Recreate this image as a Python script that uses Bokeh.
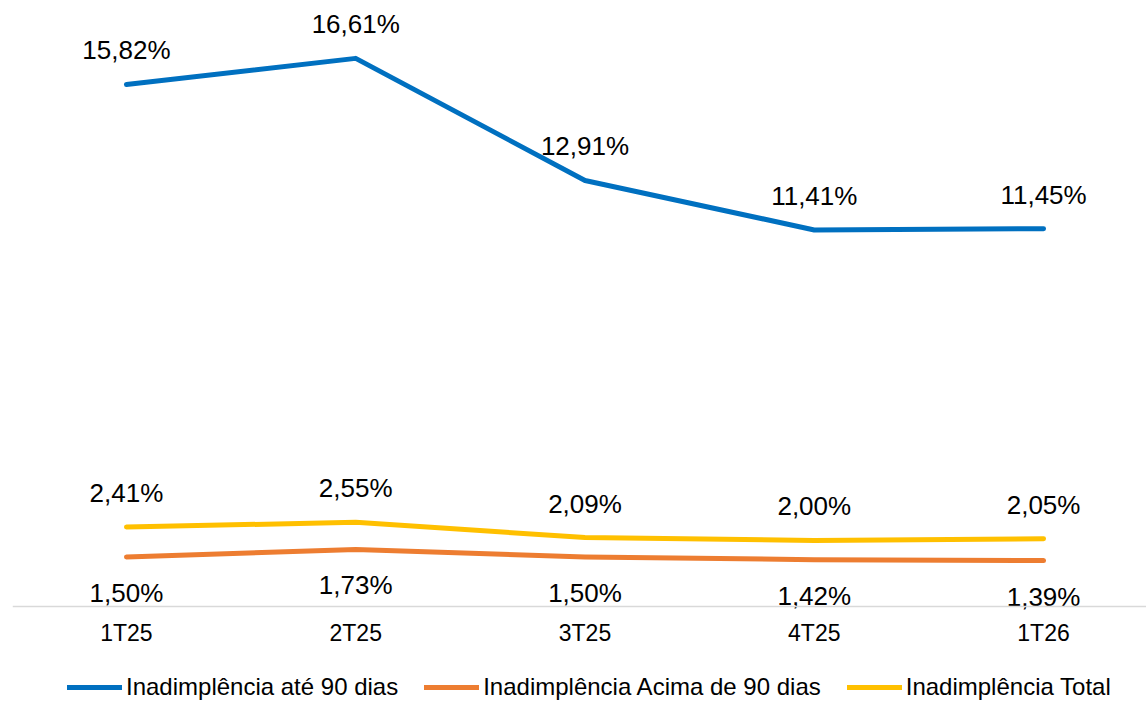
from bokeh.plotting import figure
from bokeh.models import ColumnDataSource, Range1d, FixedTicker, Legend, LegendItem
from bokeh.core.properties import value
from bokeh.embed import file_html
from bokeh.resources import INLINE

categories = ["1T25", "2T25", "3T25", "4T25", "1T26"]
ate_90 = [15.82, 16.61, 12.91, 11.41, 11.45]
acima_90 = [1.50, 1.73, 1.50, 1.42, 1.39]
total = [2.41, 2.55, 2.09, 2.00, 2.05]
series_names = ["Inadimplência até 90 dias", "Inadimplência Acima de 90 dias", "Inadimplência Total"]

FONT = "Liberation Sans"
BLUE, ORANGE, YELLOW = "#0070C0", "#ED7D31", "#FFC000"

xs = list(range(len(categories)))

def fmt(v):
    return f"{v:.2f}".replace(".", ",") + "%"

p = figure(width=1146, height=701, output_backend="svg", toolbar_location=None,
           x_range=Range1d(-0.497, 4.449), y_range=Range1d(-2.879, 18),
           y_axis_location=None, min_border_left=12, min_border_right=0,
           min_border_top=12, min_border_bottom=0)
p.outline_line_color = None
p.xgrid.visible = False
p.ygrid.visible = False
p.background_fill_color = "white"

renderers = []
for vals, color, off in [(ate_90, BLUE, -34), (acima_90, ORANGE, 36), (total, YELLOW, -34)]:
    src = ColumnDataSource(dict(x=xs, y=vals, lab=[fmt(v) for v in vals]))
    r = p.line("x", "y", source=src, line_color=color, line_width=5,
               line_cap="round", line_join="round")
    renderers.append(r)
    p.text("x", "y", text="lab", source=src, text_align="center", text_baseline="middle",
           y_offset=off, text_font=value(FONT), text_font_size="26px", text_color="black")

ax = p.xaxis[0]
ax.fixed_location = 0
ax.ticker = FixedTicker(ticks=xs)
ax.major_label_overrides = {i: c for i, c in zip(xs, categories)}
ax.major_tick_line_color = None
ax.minor_tick_line_color = None
ax.axis_line_color = "#D9D9D9"
ax.axis_line_width = 1.5
ax.major_label_text_font = FONT
ax.major_label_text_font_size = "23px"
ax.major_label_text_color = "black"
ax.major_label_standoff = 8

legend = Legend(items=[LegendItem(label=n, renderers=[r]) for n, r in zip(series_names, renderers)],
                orientation="horizontal", location=(55, 0),
                label_text_font=FONT, label_text_font_size="24px", label_text_color="black",
                glyph_width=55, glyph_height=20, label_standoff=4, spacing=26,
                padding=0, margin=0, border_line_color=None, background_fill_alpha=0)
p.add_layout(legend, "center")

open("out.html", "w").write(file_html(p, INLINE))
